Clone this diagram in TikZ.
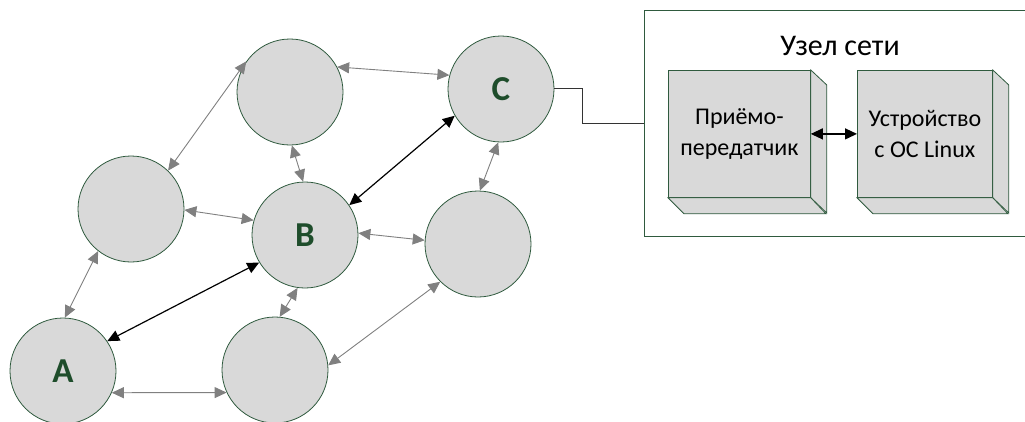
\documentclass[tikz,border=0pt]{standalone}
\usepackage{fontspec}
\setmainfont{Carlito}
\usetikzlibrary{arrows.meta}
\definecolor{edge}{RGB}{47,90,62}
\definecolor{fillg}{RGB}{217,217,217}
\definecolor{lbl}{RGB}{30,77,43}
\definecolor{linkg}{RGB}{128,128,128}
\begin{document}
\begin{tikzpicture}[x=1pt,y=-1pt,
  circ/.style={circle,draw=edge,line width=0.8pt,fill=fillg,minimum size=106pt,inner sep=0pt,text=lbl,font=\bfseries\fontsize{35}{42}\selectfont},
  lnk/.style={draw=linkg,line width=0.9pt,arrows={Triangle[length=12pt,width=11pt]-Triangle[length=12pt,width=11pt]}},
  blk/.style={draw=black,line width=1.2pt,arrows={Triangle[length=12pt,width=11pt]-Triangle[length=12pt,width=11pt]}},
  face/.style={draw=edge,line width=0.8pt,fill=fillg},
  frontbox/.style={face,inner sep=0pt,anchor=north west,align=center,font=\fontsize{24}{31}\selectfont}
  ]
\useasboundingbox (0,0) rectangle (1025,421);
\clip (0,0) rectangle (1025,421);

% network nodes
\node[circ] (A) at (63,371) {A};
\node[circ] (D) at (275,370) {};
\node[circ] (E) at (131,209) {};
\node[circ] (F) at (290,92) {};
\node[circ] (C) at (501,89) {C};
\node[circ] (B) at (305,235) {B};
\node[circ] (G) at (478,244) {};

% gray links
\draw[lnk] (F.28) -- (C.165);
\draw[lnk] (F.145) -- (E.46);
\draw[lnk] (F.272) -- (B.92);
\draw[lnk] (E.-1) -- (B.164);
\draw[lnk] (E.232) -- (A.88);
\draw[lnk] (C.267) -- (G.88);
\draw[lnk] (B.2) -- (G.176);
\draw[lnk] (B.262) -- (D.85);
\draw[lnk] (D.5) -- (G.225);
\draw[lnk] (A.-24) -- (D.205);
% black links
\draw[blk] (A.34) -- (B.211);
\draw[blk] (B.34) -- (C.210);

% network node frame
\node[draw=edge,line width=0.8pt,minimum width=400pt,minimum height=226pt,anchor=north west,inner sep=0pt] (frame) at (644,10) {};
\node[font=\fontsize{30}{36}\selectfont] (title) at (840,46) {Узел сети};
\coordinate (fr) at (frame.west |- 0,123);
\draw[line width=0.9pt,draw=black!80] (C.1) -- ++(28,0) |- (fr);

% 3D boxes
\node[frontbox,minimum width=142pt,minimum height=127pt] (tr) at (668,70) {Приёмо-\\передатчик};
\draw[face] (tr.north east) -- ++(16,15) -- ++(0,128) -- (tr.south east) -- cycle;
\draw[face] (tr.south west) -- ++(16,16) -- ++(142,0) -- (tr.south east) -- cycle;

\node[frontbox,minimum width=135pt,minimum height=127pt] (dev) at (857,70) {Устройство\\с ОС Linux};
\draw[face] (dev.north east) -- ++(16,15) -- ++(0,128) -- (dev.south east) -- cycle;
\draw[face] (dev.south west) -- ++(16,16) -- ++(135,0) -- (dev.south east) -- cycle;

\draw[blk] (tr.east) -- (dev.west);
\end{tikzpicture}
\end{document}
